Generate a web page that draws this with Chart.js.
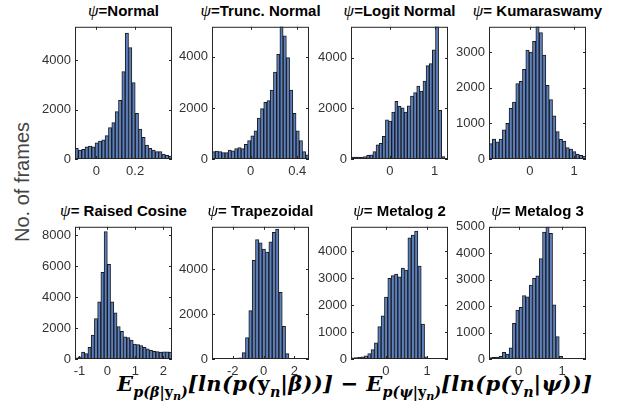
<!DOCTYPE html>
<html>
<head>
<meta charset="utf-8">
<script src="https://cdn.jsdelivr.net/npm/chart.js@4.4.0/dist/chart.umd.min.js"></script>
<style>
body { margin: 0; background: #fff; }
#wrap { position: relative; width: 626px; height: 410px; overflow: hidden; font-family: "Liberation Sans", Arial, sans-serif; }
canvas { position: absolute; }
.ttl { position: absolute; font-weight: bold; font-size: 15px; color: #000; white-space: nowrap; transform: translateX(-50%); line-height: 1; }
.psi { font-family: "Liberation Serif", serif; font-style: italic; font-weight: normal; font-size: 17px; }
#ylab { position: absolute; left: 22px; top: 182px; transform: translate(-50%, -50%) rotate(-90deg); font-size: 20px; color: #444; white-space: nowrap; }
#xlab { position: absolute; left: 117px; top: 373px; font-family: "DejaVu Serif", serif; font-weight: bold; font-style: italic; font-size: 21px; letter-spacing: 0.3px; color: #000; white-space: nowrap; line-height: 1; }
#xlab sub { font-size: 68%; vertical-align: -0.4em; letter-spacing: 0; }
#xlab sub sub { font-size: 78%; vertical-align: -0.3em; }
.up { font-style: normal; }
</style>
</head>
<body>
<div id="wrap">
  <div id="ylab">No. of frames</div>
  <div id="xlab">E<sub>p(β|<span class="up">y</span><sub>n</sub>)</sub>[ln(p(<span class="up">y</span><sub>n</sub>|β))] − E<sub>p(ψ|<span class="up">y</span><sub>n</sub>)</sub>[ln(p(<span class="up">y</span><sub>n</sub>|ψ))]</div>
</div>
<script>
// histogram counts
var normalCounts = [430, 360, 390, 490, 520, 490, 650, 730, 780, 950, 1270, 1470, 1920, 2370, 3540, 5100, 4510, 3090, 1850, 1210, 880, 560, 430, 360, 300, 300, 200, 150, 120];
var truncCounts = [290, 310, 290, 250, 250, 350, 325, 410, 450, 410, 575, 725, 910, 1100, 1600, 1975, 2225, 2290, 2700, 3410, 4100, 5200, 4825, 3975, 2700, 1790, 1100, 725, 290, 160];
var logitCounts = [75, 75, 75, 80, 100, 140, 165, 290, 560, 620, 900, 1550, 1500, 1850, 2280, 2080, 2020, 1850, 2100, 2480, 2620, 2880, 2680, 3080, 3690, 3770, 4310, 5400, 1925, 100, 30];
var kumaCounts = [430, 560, 480, 560, 820, 1000, 1420, 1600, 2120, 2180, 2520, 3060, 3000, 3300, 3750, 3550, 2920, 2070, 1670, 1210, 770, 550, 500, 320, 280, 210, 140, 100, 80];
var raisedCounts = [80, 145, 455, 350, 760, 1550, 2620, 3690, 5610, 8230, 6120, 3690, 2990, 2100, 1790, 1440, 1380, 1220, 970, 930, 870, 760, 660, 560, 500, 480, 450, 470, 460, 440];
var trapCounts = [0, 0, 0, 5, 10, 15, 25, 40, 50, 280, 950, 2150, 4380, 5300, 5160, 4880, 4750, 5200, 5630, 5770, 2960, 1450, 240, 30, 5, 0, 0, 0, 0];
var meta2Counts = [40, 50, 60, 80, 120, 200, 350, 600, 1200, 1600, 2300, 3000, 3100, 3150, 3050, 3380, 3300, 4500, 4600, 4750, 3450, 1300, 80, 15, 5, 0, 0, 0, 0];
var meta3Counts = [50, 60, 70, 100, 250, 190, 420, 1350, 1850, 1950, 2400, 2350, 2800, 3050, 3150, 3800, 4800, 5000, 4750, 2050, 850, 100, 20, 5, 0, 0, 0, 0, 0];

var titles = ['Normal', 'Trunc. Normal', 'Logit Normal', ' Kumaraswamy', ' Raised Cosine', ' Trapezoidal', ' Metalog 2', ' Metalog 3'];
var counts = [normalCounts, truncCounts, logitCounts, kumaCounts, raisedCounts, trapCounts, meta2Counts, meta3Counts];

// axis limits and ticks
var xMin = [-0.11, -0.33, -0.87, -0.925, -1.16, -3.35, -0.85, -0.68];
var xMax = [0.39, 0.50, 1.30, 1.266, 2.31, 2.95, 1.51, 1.55];
var yMax = [5350, 5180, 5220, 3711, 8545, 5872, 4911, 5000];
var xTicks = [[0, 0.2], [0, 0.4], [0, 1], [0, 1], [-1, 0, 1, 2], [-2, 0, 2], [0, 1], [0, 1]];
var yTicks = [[0, 2000, 4000], [0, 2000, 4000], [0, 2000, 4000], [0, 1000, 2000, 3000],
    [0, 2000, 4000, 6000, 8000], [0, 2000, 4000], [0, 1000, 2000, 3000, 4000], [0, 1000, 2000, 3000, 4000, 5000]];

// plot boxes on the page
var lefts = [75, 212, 351, 489];
var tops = [21, 221];
var plotW = 97, plotH = 138;
var padL = 50, padT = 6, padR = 8, padB = 24;
var axisFont = { family: '"Liberation Sans", Arial, sans-serif', size: 13 };

var boxPlugin = {
    id: 'box',
    afterDraw: function (chart) {
        var ctx = chart.ctx, a = chart.chartArea, sx = chart.scales.x, sy = chart.scales.y;
        var len = 3;
        ctx.save();
        ctx.strokeStyle = '#262626';
        ctx.lineWidth = 1;
        ctx.strokeRect(a.left + 0.5, a.top + 0.5, a.right - a.left - 1, a.bottom - a.top - 1);
        ctx.beginPath();
        sx.ticks.forEach(function (t) {
            var px = Math.round(sx.getPixelForValue(t.value)) + 0.5;
            ctx.moveTo(px, a.bottom); ctx.lineTo(px, a.bottom - len);
            ctx.moveTo(px, a.top); ctx.lineTo(px, a.top + len);
        });
        sy.ticks.forEach(function (t) {
            var py = Math.round(sy.getPixelForValue(t.value)) + 0.5;
            ctx.moveTo(a.left, py); ctx.lineTo(a.left + len, py);
            ctx.moveTo(a.right, py); ctx.lineTo(a.right - len, py);
        });
        ctx.stroke();
        ctx.restore();
    }
};

var wrap = document.getElementById('wrap');

counts.forEach(function (c, i) {
    var l = lefts[i % 4], t = tops[Math.floor(i / 4)];

    var title = document.createElement('div');
    title.className = 'ttl';
    title.style.left = (l + plotW / 2) + 'px';
    title.style.top = (t - 19) + 'px';
    title.innerHTML = '<span class="psi">ψ</span>=' + titles[i];
    wrap.appendChild(title);

    var canvas = document.createElement('canvas');
    canvas.width = plotW + padL + padR;
    canvas.height = plotH + padT + padB;
    canvas.style.left = (l - padL) + 'px';
    canvas.style.top = (t - padT) + 'px';
    wrap.appendChild(canvas);

    var binW = (xMax[i] - xMin[i]) / c.length;
    var pts = c.map(function (v, k) {
        return { x: xMin[i] + binW * (k + 0.5), y: v };
    });

    new Chart(canvas, {
        type: 'bar',
        data: {
            datasets: [{
                data: pts,
                backgroundColor: '#5b80c2',
                borderColor: '#1a1a1a',
                borderWidth: 1,
                barPercentage: 1,
                categoryPercentage: 1
            }]
        },
        options: {
            responsive: false,
            animation: false,
            devicePixelRatio: 1,
            layout: { padding: { top: padT, right: padR, left: 0, bottom: 0 } },
            plugins: { legend: { display: false }, tooltip: { enabled: false } },
            scales: {
                x: {
                    type: 'linear',
                    offset: false,
                    min: xMin[i],
                    max: xMax[i],
                    grid: { display: false, drawTicks: false, tickLength: 0 },
                    border: { display: false },
                    afterBuildTicks: function (s) { s.ticks = xTicks[i].map(function (v) { return { value: v }; }); },
                    afterFit: function (s) { s.height = padB; },
                    ticks: { color: '#333', font: axisFont, padding: 5, maxRotation: 0, autoSkip: false,
                        callback: function (v) { return String(v); } }
                },
                y: {
                    min: 0,
                    max: yMax[i],
                    grid: { display: false, drawTicks: false, tickLength: 0 },
                    border: { display: false },
                    afterBuildTicks: function (s) { s.ticks = yTicks[i].map(function (v) { return { value: v }; }); },
                    afterFit: function (s) { s.width = padL; },
                    ticks: { color: '#333', font: axisFont, padding: 4,
                        callback: function (v) { return String(v); } }
                }
            }
        },
        plugins: [boxPlugin]
    });
});
</script>
</body>
</html>
